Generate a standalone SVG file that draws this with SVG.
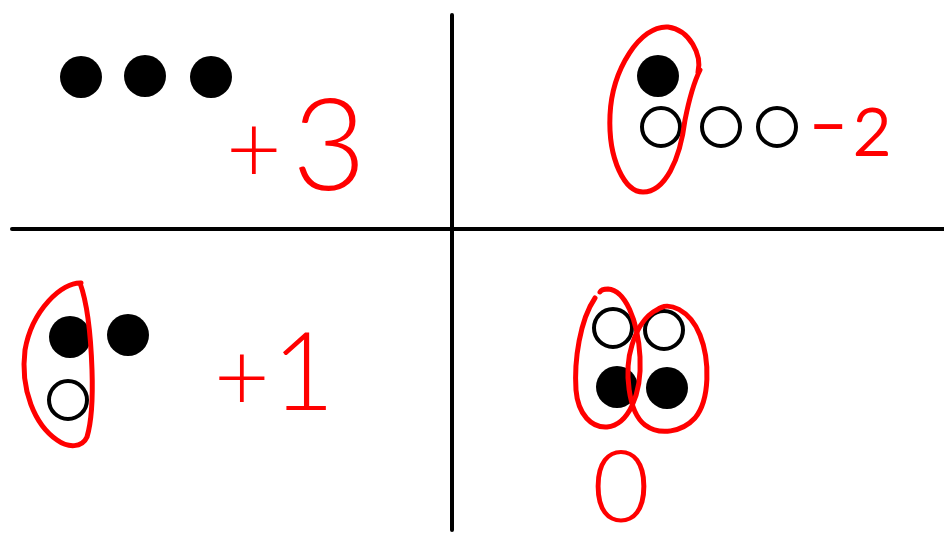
<svg xmlns="http://www.w3.org/2000/svg" width="944" height="545" viewBox="0 0 944 545">
<style>
.axis{stroke:#000;stroke-width:4;fill:none;stroke-linecap:round}
.dot{fill:#000}
.ring{fill:#fff;stroke:#000;stroke-width:4}
.loop{fill:none;stroke:#f00;stroke-width:5;stroke-linecap:round;stroke-linejoin:round}
.num{fill:#f00;font-family:Lato,"Liberation Sans",sans-serif;font-weight:300}
.thick{stroke:#f00;stroke-width:2;stroke-linejoin:round}
</style>
<rect width="944" height="545" fill="#fff"/>
<g id="axes">
<line class="axis" x1="452" y1="15" x2="452" y2="530"/>
<line class="axis" x1="12" y1="229" x2="944" y2="229"/>
</g>
<g id="top-left">
<circle class="dot" cx="81" cy="77" r="21"/>
<circle class="dot" cx="145" cy="76" r="21"/>
<circle class="dot" cx="211" cy="77" r="21"/>
<text class="num"><tspan x="226" y="183" font-size="96">+</tspan><tspan x="292" y="190" font-size="128">3</tspan></text>
</g>
<g id="top-right">
<circle class="dot" cx="658" cy="76" r="21"/>
<circle class="ring" cx="661" cy="127" r="19"/>
<circle class="ring" cx="721" cy="127" r="19"/>
<circle class="ring" cx="777" cy="127" r="19"/>
<path class="loop" d="M698,72 C702,55 690,30 668,27 C640,25 612,70 610,115 C608,160 625,192 643,192 C665,192 680,160 685,120 C690,95 695,80 700,70"/>
<text class="num"><tspan x="806" y="162" font-size="120">-</tspan><tspan class="thick" x="853" y="155" font-size="66">2</tspan></text>
</g>
<g id="bottom-left">
<circle class="dot" cx="70" cy="337" r="21"/>
<circle class="dot" cx="128" cy="335" r="21"/>
<circle class="ring" cx="68" cy="400" r="19"/>
<path class="loop" d="M81,283 C62,282 32,310 25,350 C20,390 35,425 57,440 C68,448 82,448 87,437 C92,420 93,400 92,370 C91,340 88,305 80,283"/>
<text class="num"><tspan x="214" y="411" font-size="96">+</tspan><tspan x="272" y="410" font-size="108">1</tspan></text>
</g>
<g id="bottom-right">
<circle class="ring" cx="613" cy="328" r="19"/>
<circle class="ring" cx="664" cy="330" r="19"/>
<circle class="dot" cx="617" cy="387" r="21"/>
<circle class="dot" cx="667" cy="388" r="21"/>
<path class="loop" d="M595,298 C580,320 574,360 576,390 C578,415 592,428 607,427 C628,425 642,395 640,357 C638,320 625,290 608,289 C604,289 601,290 600,292"/>
<path class="loop" d="M657,310 C668,300 690,310 700,335 C710,360 710,400 695,418 C682,432 660,436 645,425 C628,412 624,370 632,345 C638,325 648,312 663,307"/>
<text class="num" x="592" y="522" font-size="100">0</text>
</g>
</svg>
